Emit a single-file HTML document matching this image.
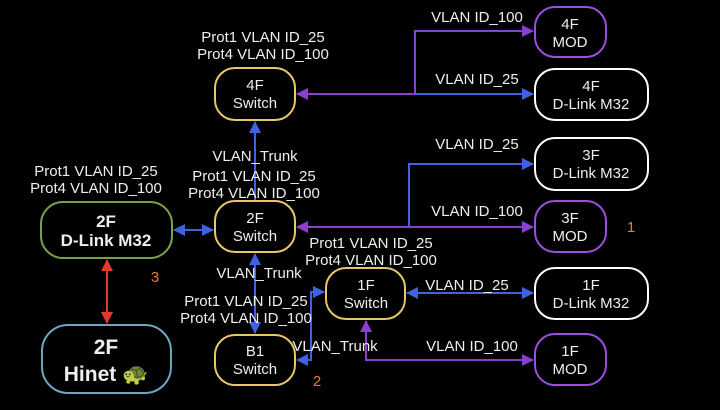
<!DOCTYPE html>
<html><head><meta charset="utf-8"><style>
body{margin:0;background:#000;}
svg text{font-family:"Liberation Sans",sans-serif;fill:#eee;font-size:15px;text-anchor:middle}
</style></head><body>
<svg width="720" height="405" viewBox="0 0 720 405" xmlns="http://www.w3.org/2000/svg">
<defs>
<marker id="b" markerWidth="12" markerHeight="12" refX="11" refY="6" orient="auto-start-reverse" markerUnits="userSpaceOnUse"><path d="M0,0 L12,6 L0,12 z" fill="#3f63e0"/></marker>
<marker id="p" markerWidth="12" markerHeight="12" refX="11" refY="6" orient="auto-start-reverse" markerUnits="userSpaceOnUse"><path d="M0,0 L12,6 L0,12 z" fill="#8a3fd0"/></marker>
<marker id="r" markerWidth="12" markerHeight="12" refX="11" refY="6" orient="auto-start-reverse" markerUnits="userSpaceOnUse"><path d="M0,0 L12,6 L0,12 z" fill="#e03a2e"/></marker>
</defs>
<g fill="none" stroke-width="2">
<path d="M415,94 H533" stroke="#3f63e0" marker-end="url(#b)"/>
<path d="M297,94 H415 V31 H533" stroke="#8a3fd0" marker-start="url(#p)" marker-end="url(#p)"/>
<path d="M409,227 V164 H533" stroke="#3f63e0" marker-end="url(#b)"/>
<path d="M297,227 H533" stroke="#8a3fd0" marker-start="url(#p)" marker-end="url(#p)"/>
<path d="M255,201 V122" stroke="#3f63e0" marker-end="url(#b)"/>
<path d="M255,254 V333" stroke="#3f63e0" marker-start="url(#b)" marker-end="url(#b)"/>
<path d="M174,230 H213" stroke="#3f63e0" marker-start="url(#b)" marker-end="url(#b)"/>
<path d="M107,260 V323" stroke="#e03a2e" marker-start="url(#r)" marker-end="url(#r)"/>
<path d="M297,360 H311 V292 H324" stroke="#3f63e0" marker-start="url(#b)" marker-end="url(#b)"/>
<path d="M407,293 H533" stroke="#3f63e0" marker-start="url(#b)" marker-end="url(#b)"/>
<path d="M366,321 V360 H533" stroke="#8a3fd0" marker-start="url(#p)" marker-end="url(#p)"/>
</g>
<g stroke-width="2" fill="#000">
<rect x="215" y="68" width="80" height="52" rx="20" stroke="#e8c66a"/>
<rect x="215" y="201" width="80" height="51" rx="20" stroke="#e8c66a"/>
<rect x="326" y="268" width="79" height="51" rx="20" stroke="#e8c66a"/>
<rect x="215" y="335" width="80" height="50" rx="20" stroke="#e8c66a"/>
<rect x="535" y="7" width="71" height="50" rx="20" stroke="#9a4fe0"/>
<rect x="535" y="201" width="71" height="51" rx="20" stroke="#9a4fe0"/>
<rect x="535" y="334" width="71" height="51" rx="20" stroke="#9a4fe0"/>
<rect x="535" y="69" width="113" height="51" rx="20" stroke="#fff"/>
<rect x="535" y="138" width="113" height="52" rx="20" stroke="#fff"/>
<rect x="535" y="268" width="113" height="51" rx="20" stroke="#fff"/>
<rect x="41" y="202" width="131" height="56" rx="22" stroke="#7aa04a"/>
<rect x="42" y="325" width="129" height="68" rx="26" stroke="#6aa8c0"/>
</g>
<text x="255" y="90">4F</text><text x="255" y="108">Switch</text>
<text x="255" y="223">2F</text><text x="255" y="241">Switch</text>
<text x="366" y="290">1F</text><text x="366" y="308">Switch</text>
<text x="255" y="356">B1</text><text x="255" y="374">Switch</text>
<text x="570" y="29">4F</text><text x="570" y="47">MOD</text>
<text x="570" y="223">3F</text><text x="570" y="241">MOD</text>
<text x="570" y="356">1F</text><text x="570" y="374">MOD</text>
<text x="591" y="91">4F</text><text x="591" y="109">D-Link M32</text>
<text x="591" y="160">3F</text><text x="591" y="178">D-Link M32</text>
<text x="591" y="290">1F</text><text x="591" y="308">D-Link M32</text>
<text x="106" y="227" style="font-weight:bold;font-size:17px">2F</text><text x="106" y="246" style="font-weight:bold;font-size:17px">D-Link M32</text>
<text x="106" y="354" style="font-weight:bold;font-size:21px">2F</text><text x="106" y="381" style="font-weight:bold;font-size:21px">Hinet 🐢</text>
<text x="263" y="42">Prot1 VLAN ID_25</text><text x="263" y="59">Prot4 VLAN ID_100</text>
<text x="96" y="176">Prot1 VLAN ID_25</text><text x="96" y="193">Prot4 VLAN ID_100</text>
<text x="255" y="161">VLAN_Trunk</text>
<text x="254" y="181">Prot1 VLAN ID_25</text><text x="254" y="198">Prot4 VLAN ID_100</text>
<text x="259" y="278">VLAN_Trunk</text>
<text x="246" y="306">Prot1 VLAN ID_25</text><text x="246" y="323">Prot4 VLAN ID_100</text>
<text x="371" y="248">Prot1 VLAN ID_25</text><text x="371" y="265">Prot4 VLAN ID_100</text>
<text x="335" y="351">VLAN_Trunk</text>
<text x="477" y="22">VLAN ID_100</text>
<text x="477" y="84">VLAN ID_25</text>
<text x="477" y="149">VLAN ID_25</text>
<text x="477" y="216">VLAN ID_100</text>
<text x="467" y="290">VLAN ID_25</text>
<text x="472" y="351">VLAN ID_100</text>
<text x="631" y="232" style="fill:#f07a28">1</text>
<text x="155" y="282" style="fill:#f07a28">3</text>
<text x="317" y="386" style="fill:#f07a28">2</text>
</svg>
</body></html>
